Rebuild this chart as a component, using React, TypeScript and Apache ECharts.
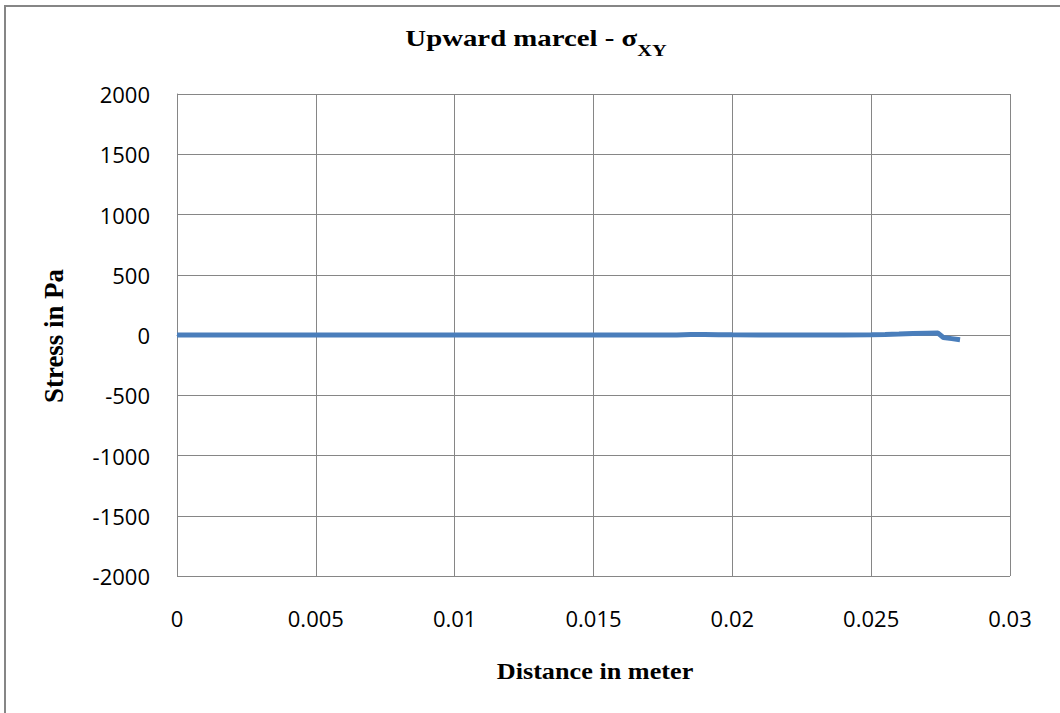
import React, { useEffect, useRef } from "react";
import * as echarts from "echarts";

const distance = [0, 0.002, 0.004, 0.006, 0.008, 0.01, 0.012, 0.014, 0.016, 0.018, 0.0185, 0.019, 0.0195, 0.02, 0.021, 0.022, 0.023, 0.024, 0.025, 0.0255, 0.026, 0.0265, 0.027, 0.0274, 0.0276, 0.0279, 0.0282];
const stress = [0, 0, 0, 0, 0, 0, 0, 0, 0, 0, 4, 5, 3, 2, 1, 0, 0, 1, 3, 5, 8, 12, 15, 16, -20, -30, -40];
const xTicks = [0, 0.005, 0.01, 0.015, 0.02, 0.025, 0.03];
const yTicks = [-2000, -1500, -1000, -500, 0, 500, 1000, 1500, 2000];

export default function App() {
  const ref = useRef<HTMLDivElement>(null);
  useEffect(() => {
    const chart = echarts.init(ref.current!, null, { renderer: "svg" });
    const tickFont = "'Open Sans', 'Liberation Sans', sans-serif";
    const serif = "'Liberation Serif', 'Times New Roman', serif";
    chart.setOption({
      animation: false,
      backgroundColor: "#fff",
      graphic: [
        { type: "rect", shape: { x: 5, y: 6, width: 1070, height: 720 }, style: { fill: "none", stroke: "#868686", lineWidth: 2 } },
        {
          type: "text",
          x: 536,
          y: 50,
          scaleX: 1.2,
          style: {
            text: "{t|Upward marcel - σ}{s|XY}",
            align: "center",
            verticalAlign: "bottom",
            rich: {
              t: { fontFamily: serif, fontWeight: "bold", fontSize: 24, fill: "#000", verticalAlign: "bottom" },
              s: { fontFamily: serif, fontWeight: "bold", fontSize: 17, fill: "#000", verticalAlign: "bottom", padding: [0, 0, -9, 0] },
            },
          },
        },
        {
          type: "text",
          x: 595,
          y: 671,
          scaleX: 1.14,
          style: {
            text: "Distance in meter",
            align: "center",
            verticalAlign: "middle",
            fontFamily: serif,
            fontWeight: "bold",
            fontSize: 23,
            fill: "#000",
          },
        },
        {
          type: "text",
          x: 54,
          y: 336,
          rotation: Math.PI / 2,
          scaleX: 1.12,
          scaleY: 1.15,
          style: {
            text: "Stress in Pa",
            align: "center",
            verticalAlign: "middle",
            fontFamily: serif,
            fontWeight: "bold",
            fontSize: 24,
            fill: "#000",
          },
        },
      ],
      grid: { left: 177, top: 94, width: 833, height: 482, containLabel: false },
      xAxis: {
        type: "value",
        min: 0,
        max: 0.03,
        interval: 0.005,
        axisLine: { show: true, lineStyle: { color: "#868686", width: 1 } },
        axisTick: { show: false },
        splitLine: { show: true, lineStyle: { color: "#868686", width: 1 } },
        axisLabel: {
          margin: 31,
          fontFamily: tickFont,
          fontSize: 22,
          color: "#000",
          formatter: (v: number) => String(xTicks.find((t) => Math.abs(t - v) < 1e-9) ?? v),
        },
      },
      yAxis: {
        type: "value",
        min: -2000,
        max: 2000,
        interval: 500,
        axisLine: { show: true, lineStyle: { color: "#868686", width: 1 } },
        axisTick: { show: false },
        splitLine: { show: true, lineStyle: { color: "#868686", width: 1 } },
        axisLabel: {
          margin: 27,
          fontFamily: tickFont,
          fontSize: 22,
          color: "#000",
          formatter: (v: number) => String(yTicks.find((t) => t === v) ?? v),
        },
      },
      series: [
        {
          type: "line",
          data: distance.map((d, i) => [d, stress[i]]),
          showSymbol: false,
          lineStyle: { color: "#4a7ebb", width: 5 },
          itemStyle: { color: "#4a7ebb" },
        },
      ],
    });
    return () => chart.dispose();
  }, []);
  return <div ref={ref} style={{ position: "fixed", left: 0, top: 0, width: 1060, height: 713 }} />;
}
